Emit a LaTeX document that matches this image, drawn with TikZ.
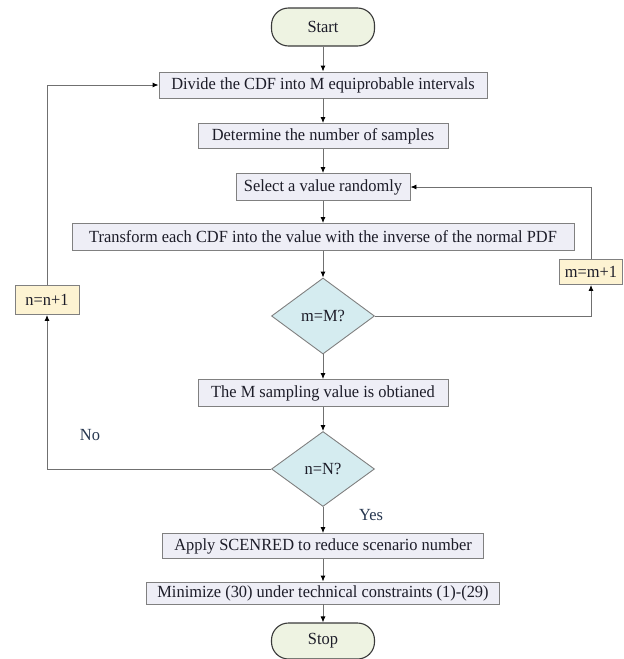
\documentclass[tikz,border=0pt]{standalone}
\usepackage{fontspec}
\setmainfont[FakeStretch=0.965]{Liberation Serif}
\usetikzlibrary{shapes.geometric,arrows.meta}
\definecolor{boxfill}{HTML}{EEEEF6}
\definecolor{boxdraw}{HTML}{808080}
\definecolor{termfill}{HTML}{EEF3E2}
\definecolor{termdraw}{HTML}{3A3A3A}
\definecolor{decfill}{HTML}{D5ECF0}
\definecolor{incfill}{HTML}{FDF3D2}
\definecolor{linecol}{HTML}{707070}
\definecolor{txt}{HTML}{1C1C28}
\definecolor{lbl}{HTML}{26364F}
\begin{document}
\begin{tikzpicture}[x=1pt,y=-1pt,
  every node/.style={font=\fontsize{17}{19}\selectfont, text=txt, inner sep=0pt},
  term/.style={draw=termdraw, fill=termfill, line width=1.1pt, rounded corners=17pt},
  proc/.style={draw=boxdraw, fill=boxfill, line width=0.9pt},
  inc/.style={draw=boxdraw, fill=incfill, line width=0.9pt},
  dec/.style={draw=boxdraw, fill=decfill, line width=0.9pt, diamond},
  arr/.style={draw=linecol, line width=0.9pt, -{Latex[length=6pt,width=5pt,black]}},
  lab/.style={text=lbl}
]
\useasboundingbox (0,0) rectangle (624,659);
\node[term, minimum width=103pt, minimum height=38pt] (start) at (323,27) {Start};
\node[proc, minimum width=328pt, minimum height=26pt] (div) at (323,85) {Divide the CDF into M equiprobable intervals};
\node[proc, minimum width=250pt, minimum height=25pt] (det) at (323,136) {Determine the number of samples};
\node[proc, minimum width=174pt, minimum height=27pt] (sel) at (323,187) {Select a value randomly};
\node[proc, minimum width=502pt, minimum height=27pt] (tra) at (323,237) {Transform each CDF into the value with the inverse of the normal PDF};
\node[dec, minimum width=103pt, minimum height=76pt] (dm) at (323,316) {m=M?};
\node[inc, minimum width=63pt, minimum height=25pt] (mm) at (591,272) {m=m+1};
\node[inc, minimum width=64pt, minimum height=29pt] (nn) at (47,300) {n=n+1};
\node[proc, minimum width=250pt, minimum height=27pt] (sam) at (323,393) {The M sampling value is obtianed};
\node[dec, minimum width=103pt, minimum height=75pt] (dn) at (323,469) {n=N?};
\node[proc, minimum width=321pt, minimum height=25pt] (app) at (323,546) {Apply SCENRED to reduce scenario number};
\node[proc, minimum width=353pt, minimum height=22pt] (mini) at (323,593) {Minimize (30) under technical constraints (1)-(29)};
\node[term, minimum width=103pt, minimum height=36pt] (stop) at (323,641) {Stop};
\node[lab] (no) at (90,435) {No};
\node[lab] (yes) at (371,515) {Yes};
\draw[arr] (start) -- (div);
\draw[arr] (div) -- (det);
\draw[arr] (det) -- (sel);
\draw[arr] (sel) -- (tra);
\draw[arr] (tra) -- (dm);
\draw[arr] (dm) -- (sam);
\draw[arr] (sam) -- (dn);
\draw[arr] (dn) -- (app);
\draw[arr] (app) -- (mini);
\draw[arr] (mini) -- (stop);
\draw[arr] (dm.east) -| (mm.south);
\draw[arr] (mm.north) |- (sel.east);
\draw[arr] (dn.west) -| (nn.south);
\draw[arr] (nn.north) |- (div.west);
\end{tikzpicture}
\end{document}
